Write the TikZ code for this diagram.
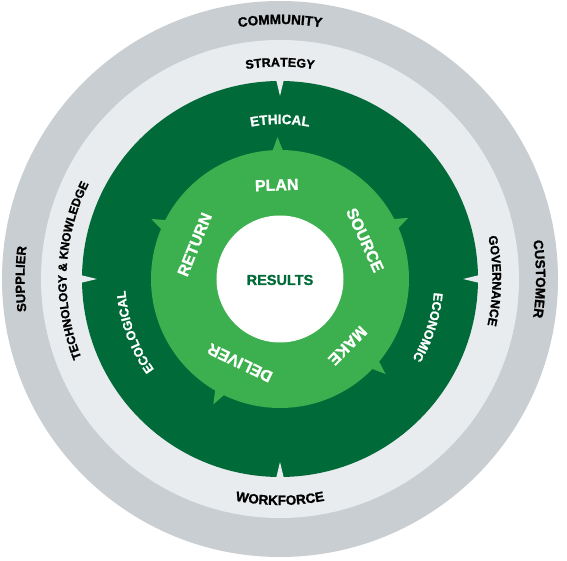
\documentclass[tikz,border=0pt]{standalone}
\usepackage{fontspec}
\setmainfont{Liberation Sans}[BoldFeatures={FakeBold=1.2}]
\usetikzlibrary{decorations.text}
\definecolor{ringgray}{HTML}{C8CED2}
\definecolor{ringlight}{HTML}{E9ECEE}
\definecolor{deepgreen}{HTML}{006A38}
\definecolor{leafgreen}{HTML}{3CB04E}
\tikzset{ringtext/.style n args={3}{decorate, decoration={text along path, text align=center, text color=#1, text={|\bfseries\fontsize{#2}{#2}\selectfont|#3}}}}
\tikzset{hub/.style={font=\bfseries\fontsize{16}{16}\selectfont, text=white, inner sep=0pt}}

\begin{document}
\begin{tikzpicture}
  \useasboundingbox (-280pt,-282pt) rectangle (287pt,279pt);
  \fill [white] (-280pt,-282pt) rectangle (287pt,279pt);
  \fill [ringgray] (0,0) circle (278pt);
  \fill [ringlight] (0,0) circle (239pt);
  \fill [deepgreen] (0,0) circle (198pt);
  \foreach \a in {0,90,180,270}
    \fill [ringlight] (\a+1.1:199pt) -- (\a:183pt) -- (\a-1.1:199pt) -- cycle;
  \fill [leafgreen] (0,0) circle (129pt);
  \foreach \a in {91,25.5,-42,242,155}
    \fill [leafgreen] (\a+2.6:127pt) -- (\a:142pt) -- (\a-2.6:127pt) -- cycle;
  \fill [white] (0,0) circle (63.5pt);

  \path [ringtext={black}{13.5}{COMMUNITY}] (180:255pt) arc[start angle=180, end angle=0, radius=255pt];
  \path [ringtext={black}{13.5}{CUSTOMER}] (90:256pt) arc[start angle=90, end angle=-90, radius=256pt];
  \path [ringtext={black}{13}{SUPPLIER}] (270:255.5pt) arc[start angle=270, end angle=90, radius=255.5pt];
  \path [ringtext={black}{12.5}{STRATEGY}] (180:212.5pt) arc[start angle=180, end angle=0, radius=212.5pt];
  \path [ringtext={black}{12.5}{GOVERNANCE}] (89.5:212.5pt) arc[start angle=89.5, end angle=-90.5, radius=212.5pt];
  \path [ringtext={black}{12}{TECHNOLOGY {\&} KNOWLEDGE}] (267.6:213.5pt) arc[start angle=267.6, end angle=87.6, radius=213.5pt];
  \path [ringtext={black}{13.5}{WORKFORCE}] (180:226pt) arc[start angle=180, end angle=360, radius=226pt];
  \path [ringtext={white}{13.5}{ETHICAL}] (180:155pt) arc[start angle=180, end angle=0, radius=155pt];
  \path [ringtext={white}{12.8}{ECONOMIC}] (72:154.5pt) arc[start angle=72, end angle=-108, radius=154.5pt];
  \path [ringtext={white}{12.8}{ECOLOGICAL}] (290:155pt) arc[start angle=290, end angle=110, radius=155pt];

  \node [hub, rotate=2] (plan) at (92:94pt) {PLAN};
  \node [hub, rotate=-65.4] (source) at (24.6:93.5pt) {SOURCE};
  \node [hub, rotate=-134.6] (make) at (-44.6:95pt) {MAKE};
  \node [hub, rotate=154.5] (deliver) at (244.5:93pt) {DELIVER};
  \node [hub, rotate=68] (return) at (158:92pt) {RETURN};
  \node [hub, text=deepgreen, font=\bfseries\fontsize{14.5}{14.5}\selectfont] (results) at (0,-1pt) {RESULTS};
\end{tikzpicture}
\end{document}
